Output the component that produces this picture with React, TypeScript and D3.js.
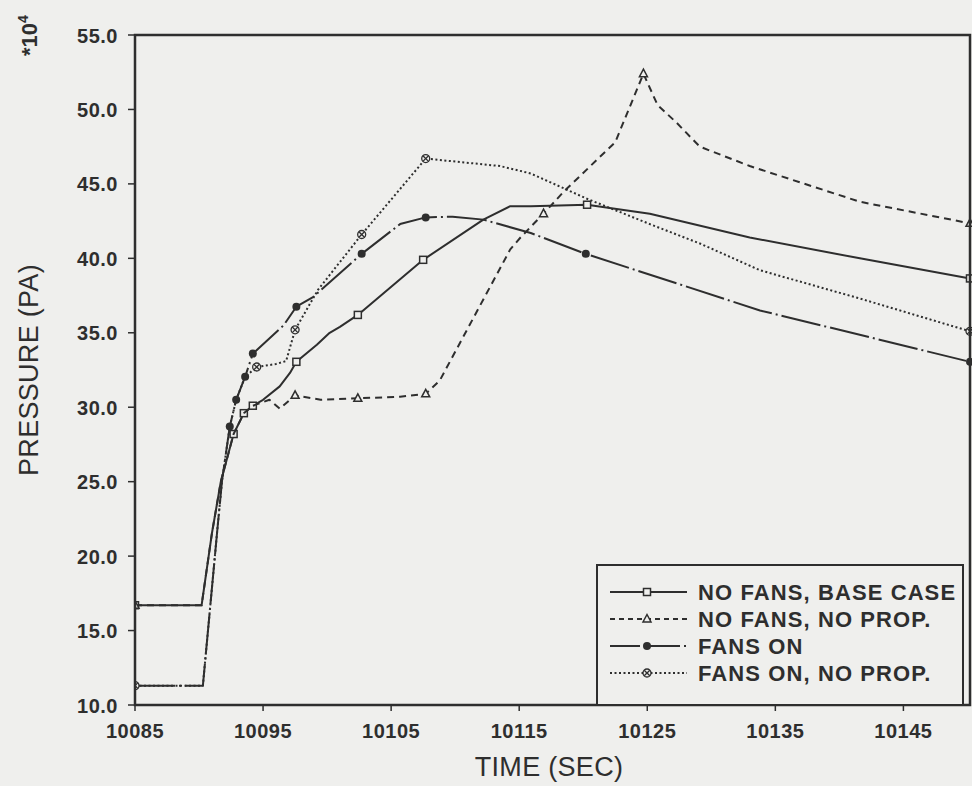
import React from "react";
import * as d3 from "d3";

// ---------- data ----------
const X_TICKS = [10085, 10095, 10105, 10115, 10125, 10135, 10145];
const Y_TICKS = [10, 15, 20, 25, 30, 35, 40, 45, 50, 55];

const BASE_T = [10085, 10090.2, 10091.0, 10091.7, 10092.7, 10093.5, 10094.2, 10095.0, 10096.3, 10097.1, 10097.6, 10099.2, 10100.2, 10101.0, 10102.4, 10107.5, 10112.2, 10114.3, 10115.9, 10120.3, 10125.2, 10133.0, 10141.6, 10150.2];
const BASE_P = [16.7, 16.7, 21.5, 25.0, 28.2, 29.6, 30.1, 30.5, 31.4, 32.3, 33.05, 34.2, 35.0, 35.4, 36.2, 39.9, 42.6, 43.5, 43.5, 43.6, 43.0, 41.4, 40.0, 38.65];
const BASE_MARKS = [10085, 10092.7, 10093.5, 10094.2, 10097.6, 10102.4, 10107.5, 10120.3, 10150.2];

const NOPROP_T = [10085, 10090.2, 10091.0, 10091.7, 10092.7, 10093.5, 10094.2, 10095.5, 10096.3, 10097.5, 10099.5, 10102.4, 10105.7, 10107.7, 10108.8, 10114.3, 10115.1, 10116.9, 10118.5, 10122.5, 10124.7, 10125.8, 10127.3, 10129.1, 10133.0, 10141.6, 10150.2];
const NOPROP_P = [16.7, 16.7, 21.5, 25.0, 28.2, 29.6, 30.1, 30.5, 29.9, 30.8, 30.5, 30.6, 30.7, 30.9, 31.8, 40.6, 41.4, 43.0, 44.5, 47.8, 52.4, 50.3, 49.1, 47.5, 46.2, 43.8, 42.35];
const NOPROP_MARKS = [10085, 10097.5, 10102.4, 10107.7, 10116.9, 10124.7, 10150.2];

const FANS_T = [10085, 10090.3, 10091.4, 10091.8, 10092.4, 10092.9, 10093.6, 10094.2, 10096.6, 10097.6, 10098.9, 10102.7, 10105.7, 10107.7, 10109.8, 10112.2, 10115.9, 10120.2, 10133.8, 10150.2];
const FANS_P = [11.3, 11.3, 21.5, 25.1, 28.7, 30.5, 32.05, 33.6, 35.5, 36.75, 37.4, 40.3, 42.3, 42.75, 42.8, 42.6, 41.7, 40.3, 36.5, 33.05];
const FANS_MARKS = [10085, 10092.4, 10092.9, 10093.6, 10094.2, 10097.6, 10102.7, 10107.7, 10120.2, 10150.2];

const FANSNP_T = [10085, 10090.3, 10091.4, 10091.8, 10092.4, 10092.9, 10093.6, 10094.5, 10096.0, 10096.8, 10097.5, 10099.3, 10102.7, 10107.7, 10113.5, 10115.9, 10120.3, 10125.2, 10129.1, 10133.8, 10141.6, 10150.2];
const FANSNP_P = [11.3, 11.3, 21.5, 25.1, 28.7, 30.5, 32.05, 32.7, 32.9, 33.1, 35.2, 37.9, 41.6, 46.7, 46.2, 45.7, 44.0, 42.3, 41.0, 39.2, 37.3, 35.1];
const FANSNP_MARKS = [10085, 10094.5, 10097.5, 10102.7, 10107.7, 10150.2];

const LEGEND_LABELS = ["NO FANS, BASE CASE", "NO FANS, NO PROP.", "FANS ON", "FANS ON, NO PROP."];

// ---------- layout ----------
const W = 972, H = 786;
const L = 135, R = 970, T = 35, B = 705;
const BG = "#efefed";
const INK = "#2e2e2e";
const FONT = "'Liberation Sans', Arial, Helvetica, sans-serif";

const x = d3.scaleLinear().domain([10085, 10150.2]).range([L, R]);
const y = d3.scaleLinear().domain([10, 55]).range([B, T]);

type MarkerKind = "square" | "triangle" | "dot" | "xcircle";

function Marker({ kind, cx, cy }: { kind: MarkerKind; cx: number; cy: number }) {
  if (kind === "square")
    return <rect x={cx - 3.5} y={cy - 3.5} width={7} height={7} fill={BG} stroke={INK} strokeWidth={1.5} />;
  if (kind === "triangle")
    return <path d={`M${cx},${cy - 4.5}L${cx + 4},${cy + 3}L${cx - 4},${cy + 3}Z`} fill={BG} stroke={INK} strokeWidth={1.5} />;
  if (kind === "dot") return <circle cx={cx} cy={cy} r={4} fill={INK} />;
  return (
    <g stroke={INK} strokeWidth={1.3}>
      <circle cx={cx} cy={cy} r={4} fill={BG} />
      <line x1={cx - 2.8} y1={cy - 2.8} x2={cx + 2.8} y2={cy + 2.8} />
      <line x1={cx - 2.8} y1={cy + 2.8} x2={cx + 2.8} y2={cy - 2.8} />
    </g>
  );
}

const SERIES = [
  { t: BASE_T, p: BASE_P, marks: BASE_MARKS, dash: "none", legendDash: "none", kind: "square" as MarkerKind, w: 2 },
  { t: NOPROP_T, p: NOPROP_P, marks: NOPROP_MARKS, dash: "7 5", legendDash: "5 4", kind: "triangle" as MarkerKind, w: 2 },
  { t: FANS_T, p: FANS_P, marks: FANS_MARKS, dash: "40 4 2 4", legendDash: "30 4 2 4", kind: "dot" as MarkerKind, w: 2 },
  { t: FANSNP_T, p: FANSNP_P, marks: FANSNP_MARKS, dash: "2 2.5", legendDash: "2 2.5", kind: "xcircle" as MarkerKind, w: 2 },
];

export default function App() {
  const line = d3
    .line<[number, number]>()
    .x((d) => x(d[0]))
    .y((d) => y(d[1]));

  return (
    <svg width={W} height={H} style={{ position: "absolute", left: 0, top: 0, display: "block" }}
      fontFamily={FONT}>
      <rect x={0} y={0} width={W} height={H} fill={BG} />
      <defs>
        <clipPath id="plot">
          <rect x={L} y={T - 10} width={R - L + 2} height={B - T + 12} />
        </clipPath>
      </defs>

      {/* series */}
      <g clipPath="url(#plot)">
        {SERIES.map((s, i) => {
          const pts = s.t.map((t, j) => [t, s.p[j]] as [number, number]);
          return (
            <g key={i}>
              <path d={line(pts) || ""} fill="none" stroke={INK} strokeWidth={s.w}
                strokeDasharray={s.dash} strokeLinejoin="round" />
              {s.marks.map((mt, k) => {
                const j = s.t.indexOf(mt);
                if (j < 0) return null;
                return <Marker key={k} kind={s.kind} cx={x(s.t[j])} cy={y(s.p[j])} />;
              })}
            </g>
          );
        })}
      </g>

      {/* frame */}
      <rect x={L} y={T} width={R - L} height={B - T} fill="none" stroke={INK} strokeWidth={2.5} />

      {/* y axis */}
      {Y_TICKS.map((v) => (
        <g key={v}>
          <line x1={L - 7} x2={L} y1={y(v)} y2={y(v)} stroke={INK} strokeWidth={1.5} />
          <text x={118} y={y(v) + 7.5} textAnchor="end" fontSize={20} fontWeight="bold" fill={INK}
            letterSpacing={0.5}>
            {v.toFixed(1)}
          </text>
        </g>
      ))}

      {/* x axis */}
      {X_TICKS.map((t) => (
        <g key={t}>
          <line x1={x(t)} x2={x(t)} y1={B} y2={B + 6} stroke={INK} strokeWidth={1.5} />
          <text x={x(t)} y={738} textAnchor="middle" fontSize={20} fontWeight="bold" fill={INK}
            letterSpacing={0.5}>
            {t}
          </text>
        </g>
      ))}

      {/* titles */}
      <text x={549} y={776} textAnchor="middle" fontSize={27} fill={INK} letterSpacing={0.3}>
        TIME (SEC)
      </text>
      <text transform={`translate(38,${(T + B) / 2}) rotate(-90)`} textAnchor="middle" fontSize={27} fill={INK}
        letterSpacing={0.3}>
        PRESSURE (PA)
      </text>
      <text transform="translate(37,56) rotate(-90)" fontSize={22} fontWeight="bold" fill={INK}>
        *10<tspan dy={-9} fontSize={14}>4</tspan>
      </text>

      {/* legend */}
      <g>
        <rect x={597} y={565} width={366} height={B - 565} fill={BG} stroke={INK} strokeWidth={2} />
        {SERIES.map((s, i) => {
          const ly = 592 + i * 27;
          return (
            <g key={i}>
              <line x1={610} x2={687} y1={ly} y2={ly} stroke={INK} strokeWidth={s.w} strokeDasharray={s.legendDash} />
              <Marker kind={s.kind} cx={647} cy={ly} />
              <text x={698} y={ly + 8} fontSize={22} fontWeight="bold" fill={INK} letterSpacing={1.1}>
                {LEGEND_LABELS[i]}
              </text>
            </g>
          );
        })}
      </g>
    </svg>
  );
}
